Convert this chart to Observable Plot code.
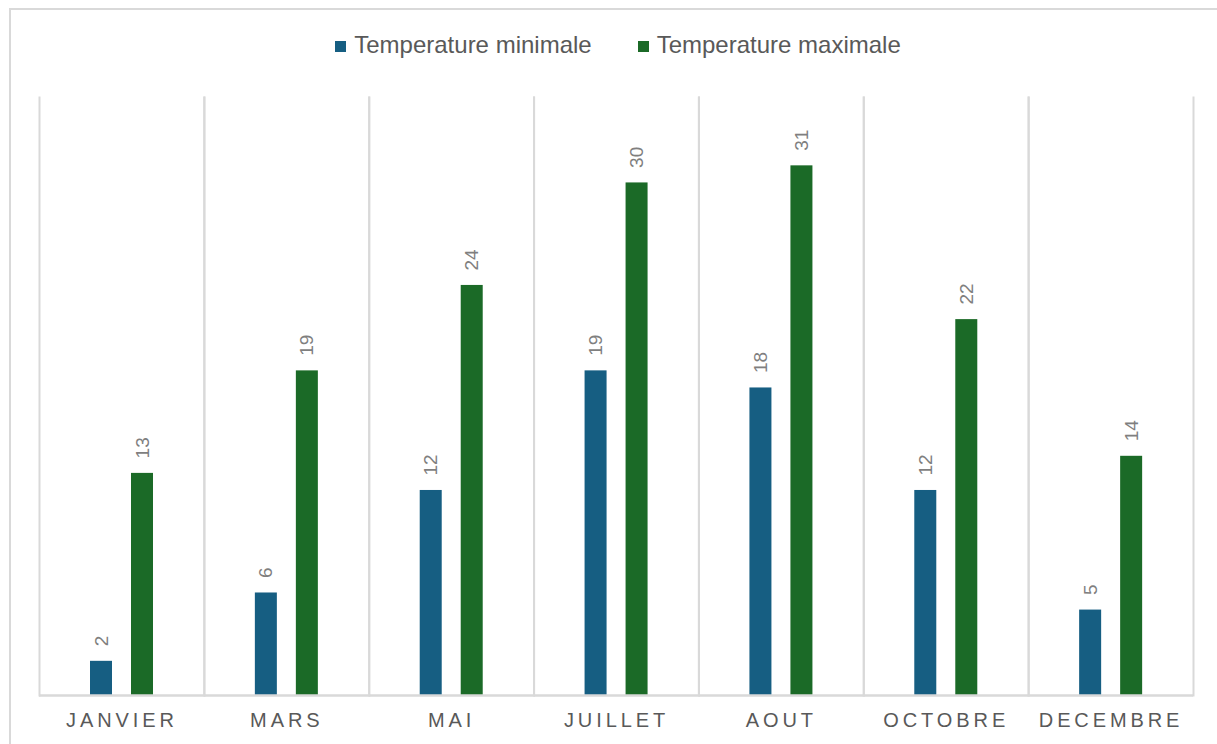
<!DOCTYPE html>
<html>
<head>
<meta charset="utf-8">
<script src="https://cdn.jsdelivr.net/npm/d3@7"></script>
<script src="https://cdn.jsdelivr.net/npm/@observablehq/plot@0.6"></script>
<style>
  html, body { margin: 0; padding: 0; background: #fff; overflow: hidden; }
  body { width: 1217px; height: 744px; position: relative; font-family: "Liberation Sans", Arial, sans-serif; }
  #border { position: absolute; left: 9px; top: 8px; width: 1240px; height: 780px; border: 2px solid #d9d9d9; box-sizing: border-box; }
  #legend { position: absolute; left: 0; top: 27px; width: 1236px; height: 36px; display: flex; justify-content: center; align-items: center; gap: 46px; font-size: 24px; color: #595959; }
  #legend .item { display: flex; align-items: center; gap: 8px; }
  #legend .sw { width: 11px; height: 11px; display: inline-block; margin-top: 2px; }
  #chart { position: absolute; left: 0; top: 70px; }
  #chart g[aria-label="fx-axis tick label"] text { letter-spacing: 3.9px; }
</style>
</head>
<body>
<div id="border"></div>
<div id="legend"></div>
<div id="chart"></div>
<script>
// Monthly temperatures (°C)
const months = ["JANVIER", "MARS", "MAI", "JUILLET", "AOUT", "OCTOBRE", "DECEMBRE"];
const minTemps = [2, 6, 12, 19, 18, 12, 5];
const maxTemps = [13, 19, 24, 30, 31, 22, 14];
const seriesNames = ["Temperature minimale", "Temperature maximale"];
const seriesColors = ["#165e82", "#1b6a27"];

const rows = months.flatMap((m, i) => [
  {month: m, series: seriesNames[0], value: minTemps[i]},
  {month: m, series: seriesNames[1], value: maxTemps[i]}
]);

// Legend
const legend = document.getElementById("legend");
seriesNames.forEach((name, i) => {
  const item = document.createElement("div");
  item.className = "item";
  const sw = document.createElement("span");
  sw.className = "sw";
  sw.style.background = seriesColors[i];
  const label = document.createElement("span");
  label.textContent = name;
  item.append(sw, label);
  legend.append(item);
});

const grid = "#d9d9d9";

const chart = Plot.plot({
  width: 1217,
  height: 674,
  marginTop: 27,
  marginBottom: 49,
  marginLeft: 39,
  marginRight: 24,
  style: {fontFamily: "Liberation Sans, Arial, sans-serif", background: "transparent"},
  fx: {domain: months, padding: 0, round: false, label: null},
  x: {domain: seriesNames, paddingInner: 0.452, paddingOuter: 1.19, axis: null},
  y: {domain: [0, 35], axis: null},
  color: {domain: seriesNames, range: seriesColors},
  marks: [
    Plot.frame({anchor: "left", stroke: grid, strokeWidth: 2}),
    Plot.frame({anchor: "right", stroke: grid, strokeWidth: 2}),
    Plot.barY(rows, {fx: "month", x: "series", y: "value", fill: "series"}),
    Plot.ruleY([0], {stroke: grid, strokeWidth: 2.5}),
    Plot.text(rows, {
      fx: "month", x: "series", y: "value", text: d => String(d.value),
      rotate: -90, textAnchor: "start", lineAnchor: "middle", dy: -15,
      fill: "#7f7f7f", fontSize: 19
    }),
    Plot.axisFx({anchor: "bottom", tickSize: 0, tickPadding: 17, label: null, fontSize: 20, fill: "#595959"})
  ]
});

document.getElementById("chart").append(chart);
</script>
</body>
</html>
